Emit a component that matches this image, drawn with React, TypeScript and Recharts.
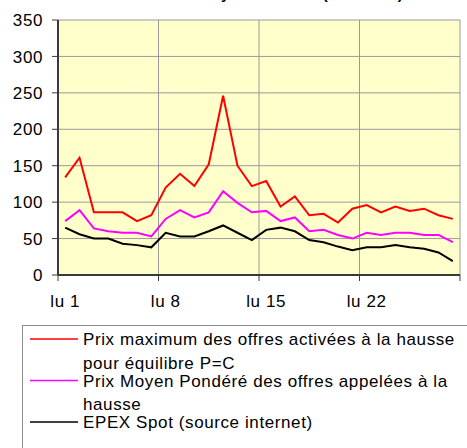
import React from "react";
import { LineChart, Line, XAxis, YAxis, CartesianGrid } from "recharts";

const days = [1, 2, 3, 4, 5, 6, 7, 8, 9, 10, 11, 12, 13, 14, 15, 16, 17, 18, 19, 20, 21, 22, 23, 24, 25, 26, 27, 28];
const prixMax = [134, 161, 86, 86, 86, 74, 82, 120, 139, 122, 152, 246, 150, 122, 129, 94, 108, 82, 84, 72, 91, 96, 86, 94, 88, 91, 82, 77];
const prixMoyen = [74, 89, 64, 60, 58, 58, 53, 77, 89, 79, 86, 115, 99, 86, 88, 74, 79, 60, 62, 55, 50, 58, 55, 58, 58, 55, 55, 45];
const epex = [65, 56, 50, 50, 43, 41, 38, 58, 53, 53, 60, 68, 58, 48, 62, 65, 60, 48, 45, 39, 34, 38, 38, 41, 38, 36, 31, 19];
const yTicks = [0, 50, 100, 150, 200, 250, 300, 350];
const weekBoundaries = [0.5, 7.5, 14.5, 21.5, 28.5];
const dayLabelPrefix = "lu ";
const title = "Prix moyens horaires (en €/MWh)";

const seriesNames = [
  ["Prix maximum des offres activées à la hausse", "pour équilibre P=C"],
  ["Prix Moyen Pondéré des offres appelées à la", "hausse"],
  ["EPEX Spot (source internet)"],
];
const seriesColors = ["#FF0000", "#FF00FF", "#000000"];
const seriesKeys = ["max", "moyen", "epex"];

const data = days.map((d, i) => ({ day: d, max: prixMax[i], moyen: prixMoyen[i], epex: epex[i] }));

const FONT = "Liberation Sans";
const CHART_W = 467;
const CHART_H = 320;
const MARGIN = { top: 20, right: 7, left: 8, bottom: 5 };
const Y_W = 50;
const PLOT_W = CHART_W - MARGIN.left - MARGIN.right - Y_W;
const HALF_DAY = PLOT_W / days.length / 2;

const txtStyle = { fontFamily: FONT, fontSize: 17, letterSpacing: 0.6 };

const XTick = (props: any) => {
  const { x, y, payload } = props;
  if (payload.value >= days[days.length - 1]) return null;
  return (
    <text x={x + HALF_DAY} y={y} dy="0.71em" textAnchor="middle" style={txtStyle} fill="#000">
      {dayLabelPrefix + (payload.value + 0.5)}
    </text>
  );
};

const YTick = (props: any) => {
  const { x, y, payload } = props;
  return (
    <text x={x} y={y} dy="0.36em" textAnchor="end" style={txtStyle} fill="#000">
      {payload.value}
    </text>
  );
};

export default function App() {
  const legendFirstBaselines = [345, 386.5, 428];
  const wrapGap = 23.5;
  return (
    <div style={{ position: "absolute", left: 0, top: 0, width: 467, height: 448, background: "#fff", overflow: "hidden" }}>
      <LineChart width={CHART_W} height={CHART_H} data={data} margin={MARGIN}>
        <CartesianGrid fill="#FFFFCC" stroke="#9a9a9a" strokeWidth={1} horizontalValues={yTicks} verticalValues={weekBoundaries} />
        <XAxis
          dataKey="day"
          type="number"
          domain={[0.5, 28.5]}
          ticks={weekBoundaries}
          interval={0}
          height={40}
          tickSize={6}
          tickMargin={14}
          axisLine={{ stroke: "#3a3a3a", strokeWidth: 2 }}
          tickLine={{ stroke: "#3a3a3a", strokeWidth: 1 }}
          tick={<XTick />}
        />
        <YAxis
          type="number"
          domain={[0, 350]}
          ticks={yTicks}
          interval={0}
          width={Y_W}
          tickSize={6}
          tickMargin={9}
          axisLine={{ stroke: "#3a3a3a", strokeWidth: 2 }}
          tickLine={{ stroke: "#3a3a3a", strokeWidth: 1 }}
          tick={<YTick />}
        />
        {seriesKeys.map((k, i) => (
          <Line key={k} type="linear" dataKey={k} stroke={seriesColors[i]} strokeWidth={2} dot={false} isAnimationActive={false} />
        ))}
      </LineChart>
      <svg width={467} height={448} style={{ position: "absolute", left: 0, top: 0, pointerEvents: "none" }}>
        <text x={166} y={-1} style={{ fontFamily: FONT, fontSize: 15, fontWeight: "bold" }} fill="#000">
          {title}
        </text>
        <rect x={22.5} y={325.5} width={470} height={140} fill="#fff" stroke="#8c8c8c" strokeWidth={1} />
        {seriesNames.map((lines, i) => (
          <g key={i}>
            <line x1={30} x2={78} y1={legendFirstBaselines[i] - 6} y2={legendFirstBaselines[i] - 6} stroke={seriesColors[i]} strokeWidth={1.5} />
            {lines.map((t, j) => (
              <text key={j} x={83} y={legendFirstBaselines[i] + j * wrapGap} style={txtStyle} fill="#000">
                {t}
              </text>
            ))}
          </g>
        ))}
      </svg>
    </div>
  );
}
